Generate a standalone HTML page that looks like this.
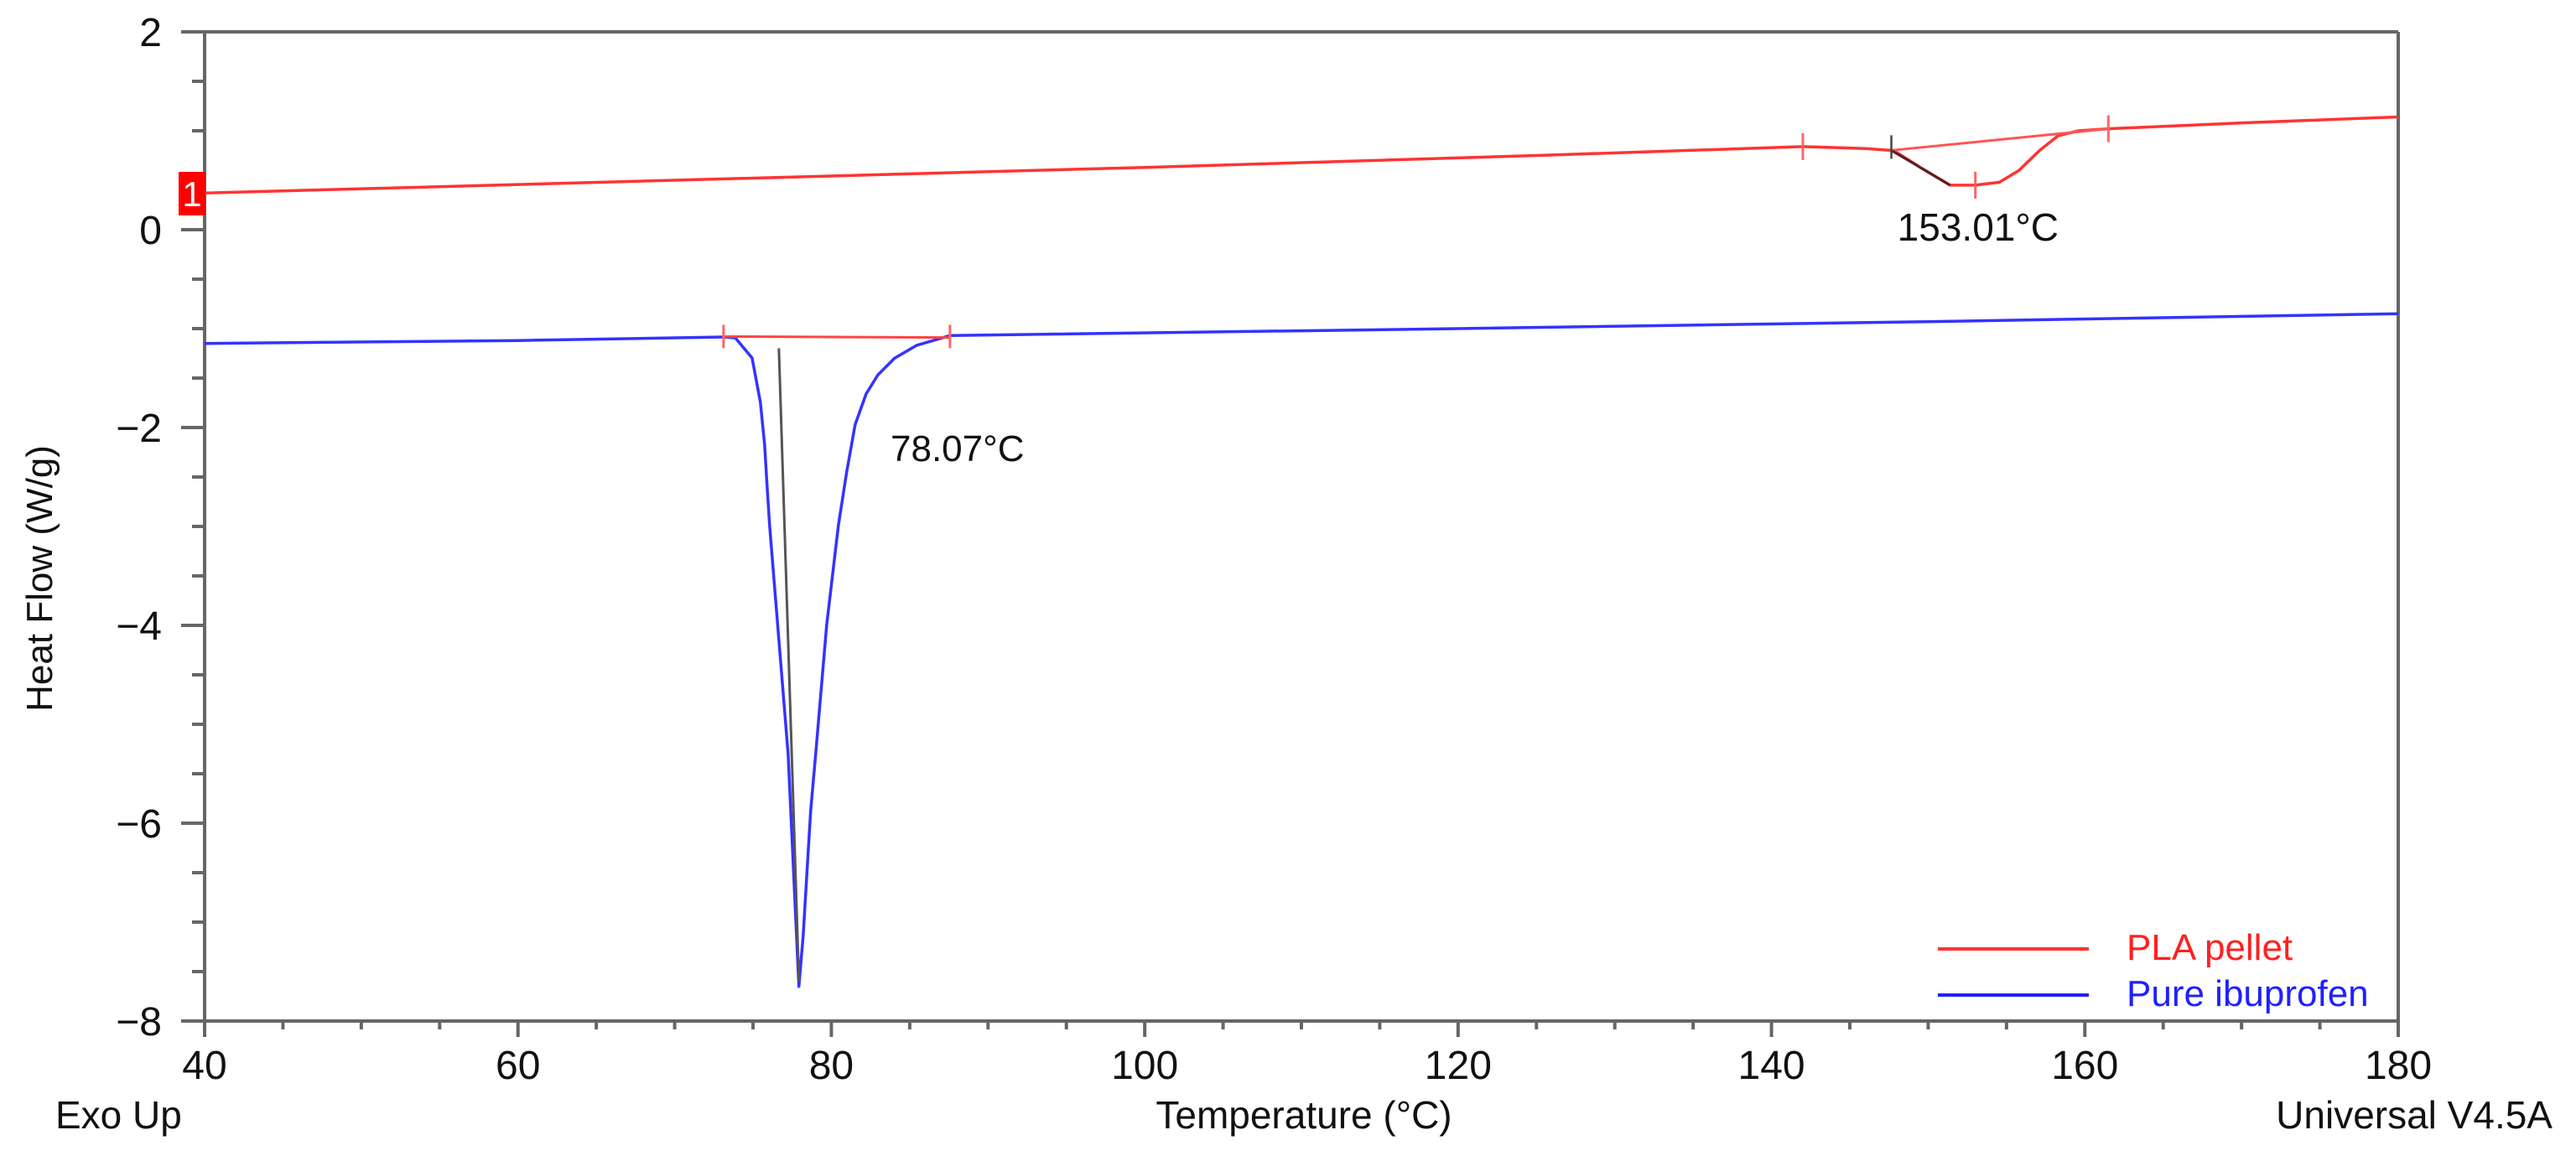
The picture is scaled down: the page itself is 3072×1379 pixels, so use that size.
<!DOCTYPE html>
<html><head><meta charset="utf-8"><style>
html,body{margin:0;padding:0;background:#fff;}
svg{display:block;font-family:"Liberation Sans",Arial,sans-serif;}
</style></head><body>
<svg id="chart" width="3072" height="1379" viewBox="0 0 3072 1379" xmlns="http://www.w3.org/2000/svg">
<rect x="0" y="0" width="3072" height="1379" fill="#fff"/>
<g id="axes"></g>
<g id="plot"></g>
<text x="0" y="0" font-size="44" fill="#111" text-anchor="middle" transform="translate(62,690) rotate(-90)">Heat Flow (W/g)</text>
<text x="1555" y="1346" font-size="46" fill="#111" text-anchor="middle">Temperature (°C)</text>
<text x="66" y="1346" font-size="46" fill="#111">Exo Up</text>
<text x="3044" y="1346" font-size="46" fill="#111" text-anchor="end">Universal V4.5A</text>
<g>
<line x1="2311" y1="1132" x2="2491" y2="1132" stroke="#ff3333" stroke-width="4"/>
<text x="2536" y="1145" font-size="44" fill="#ff2020">PLA pellet</text>
<line x1="2311" y1="1187" x2="2491" y2="1187" stroke="#2020ff" stroke-width="4"/>
<text x="2536" y="1200" font-size="44" fill="#2020ff">Pure ibuprofen</text>
</g>
<g>
<rect x="213" y="205" width="32" height="52" fill="#ff0000"/>
<text x="229" y="246" font-size="42" fill="#fff" text-anchor="middle">1</text>
</g>
</svg>
<script>
// Data
const xTicks = [40, 60, 80, 100, 120, 140, 160, 180];
const yTicks = [2, 0, -2, -4, -6, -8];
const plaTemps  = [40, 70, 100, 125, 142, 146.05, 147.8, 149.5, 151.4, 153.0, 154.55, 155.8, 157.1, 158.3, 159.6, 161.5, 170, 180];
const plaValues = [0.37, 0.50, 0.63, 0.75, 0.84, 0.82, 0.80, 0.63, 0.45, 0.45, 0.48, 0.60, 0.80, 0.95, 1.0, 1.02, 1.08, 1.14];
const ibuTemps  = [40, 60, 73.12, 73.87, 74.94, 75.47, 75.74, 75.90, 76.06, 77.24, 77.93, 78.20, 78.47, 78.68, 79.0, 79.7, 80.45, 80.98, 81.52, 82.22, 82.96, 84.03, 85.43, 86.50, 87.57, 120, 150, 180];
const ibuValues = [-1.15, -1.12, -1.085, -1.093, -1.297, -1.746, -2.17, -2.593, -2.99, -5.305, -7.65, -7.14, -6.43, -5.87, -5.305, -4.0, -2.99, -2.45, -1.97, -1.66, -1.47, -1.30, -1.17, -1.12, -1.07, -1.0, -0.93, -0.85];
const ibuPeakT = 78.07, ibuOnsetT = 73.12, ibuEndT = 87.57, ibuBaseY = -1.08;
const plaOnsetT = 142, plaTanT = 147.65, plaMinT = 153.01, plaEndT = 161.5;

const X0 = 244, X1 = 2860, Y0 = 38, Y1 = 1218;
const xs = t => X0 + (t - 40) / 140 * (X1 - X0);
const ys = v => Y0 + (2 - v) / 10 * (Y1 - Y0);
const NS = "http://www.w3.org/2000/svg";
function mk(parent, tag, attrs) {
  const el = document.createElementNS(NS, tag);
  for (const k in attrs) el.setAttribute(k, attrs[k]);
  parent.appendChild(el);
  return el;
}
const axes = document.getElementById('axes');
const plot = document.getElementById('plot');
const AX = "#666";
let e;
e = mk(axes, 'line', {x1: 216, y1: Y0, x2: X1, y2: Y0, stroke: AX, 'stroke-width': 4});


e = mk(axes, 'line', {x1: X0, y1: Y0, x2: X0, y2: 1237, stroke: AX, 'stroke-width': 4});


e = mk(axes, 'line', {x1: 216, y1: Y1, x2: X1, y2: Y1, stroke: AX, 'stroke-width': 4});


e = mk(axes, 'line', {x1: X1, y1: Y0, x2: X1, y2: 1237, stroke: AX, 'stroke-width': 4});


for (let v = -8; v <= 2; v += 0.5) {
  if (Number.isInteger(v / 2)) continue;
  e = mk(axes, 'line', {x1: 229, y1: ys(v), x2: X0, y2: ys(v), stroke: AX, 'stroke-width': 4});
  
  
}
yTicks.forEach(v => {
  e = mk(axes, 'line', {x1: 216, y1: ys(v), x2: X0, y2: ys(v), stroke: AX, 'stroke-width': 4});
  
  
  const t = mk(axes, 'text', {x: 193, y: ys(v) + 17, 'font-size': 48, fill: '#111', 'text-anchor': 'end'});
  t.textContent = v < 0 ? '\u2212' + Math.abs(v) : String(v);
  
  
});
for (let t = 40; t <= 180; t += 5) {
  const major = t % 20 === 0;
  e = mk(axes, 'line', {x1: xs(t), y1: Y1, x2: xs(t), y2: major ? 1237 : 1228, stroke: AX, 'stroke-width': 4});
  
  
}
xTicks.forEach(t => {
  const tx = mk(axes, 'text', {x: xs(t), y: 1287, 'font-size': 48, fill: '#111', 'text-anchor': 'middle'});
  tx.textContent = String(t);
  
  
});
function pathOf(T, V) {
  return T.map((t, i) => (i ? 'L' : 'M') + xs(t).toFixed(1) + ' ' + ys(V[i]).toFixed(1)).join(' ');
}
function interp(T, V, t) {
  for (let i = 1; i < T.length; i++) if (t <= T[i]) {
    const f = (t - T[i-1]) / (T[i] - T[i-1]);
    return V[i-1] + f * (V[i] - V[i-1]);
  }
  return V[V.length - 1];
}
e = mk(plot, 'path', {d: pathOf(plaTemps, plaValues), fill: 'none', stroke: '#ff3333', 'stroke-width': 3.5, 'stroke-linejoin': 'round'});


const plaTanY = interp(plaTemps, plaValues, plaTanT), plaEndY = interp(plaTemps, plaValues, plaEndT);
e = mk(plot, 'line', {x1: xs(plaTanT), y1: ys(plaTanY), x2: xs(plaEndT), y2: ys(plaEndY), stroke: '#ff5555', 'stroke-width': 3});


e = mk(plot, 'line', {x1: xs(plaTanT), y1: ys(plaTanY), x2: xs(151.4), y2: ys(0.45), stroke: '#552222', 'stroke-width': 3});


e = mk(plot, 'line', {x1: xs(plaTanT), y1: ys(plaTanY) - 18, x2: xs(plaTanT), y2: ys(plaTanY) + 10, stroke: '#444', 'stroke-width': 2.5});


[plaOnsetT, plaMinT, plaEndT].forEach(t => {
  const v = interp(plaTemps, plaValues, t);
  e = mk(plot, 'line', {x1: xs(t), y1: ys(v) - 16, x2: xs(t), y2: ys(v) + 16, stroke: '#ff6666', 'stroke-width': 3});
  
  
});
e = mk(plot, 'text', {x: xs(plaMinT) - 93, y: 287, 'font-size': 46, fill: '#111'});
e.textContent = plaMinT.toFixed(2) + '°C';


e = mk(plot, 'path', {d: pathOf(ibuTemps, ibuValues), fill: 'none', stroke: '#3333ff', 'stroke-width': 3.5, 'stroke-linejoin': 'round'});


e = mk(plot, 'line', {x1: xs(ibuOnsetT), y1: ys(ibuBaseY), x2: xs(ibuEndT), y2: ys(ibuBaseY - 0.01), stroke: '#ff4444', 'stroke-width': 3});


e = mk(plot, 'line', {x1: xs(76.65), y1: ys(ibuBaseY) + 14, x2: xs(77.93), y2: ys(-7.6), stroke: '#555', 'stroke-width': 3});


[ibuOnsetT, ibuEndT].forEach(t => {
  e = mk(plot, 'line', {x1: xs(t), y1: ys(ibuBaseY) - 14, x2: xs(t), y2: ys(ibuBaseY) + 14, stroke: '#ff6666', 'stroke-width': 3});
  
  
});
e = mk(plot, 'text', {x: 1062, y: 550, 'font-size': 44, fill: '#111'});
e.textContent = ibuPeakT.toFixed(2) + '°C';


</script>
</body></html>
